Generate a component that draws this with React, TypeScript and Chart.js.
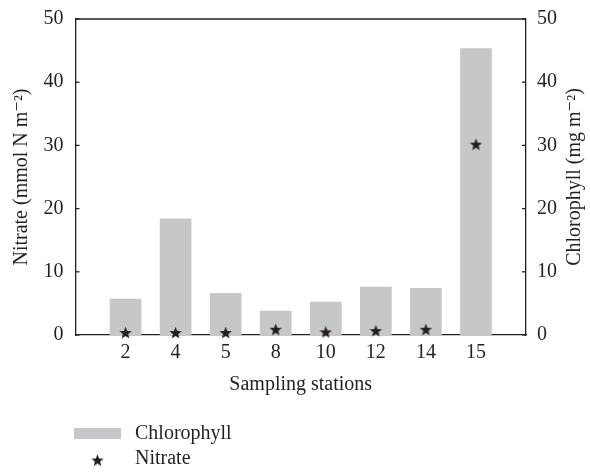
import React, { useEffect, useRef } from "react";
import { Chart, registerables } from "chart.js";

Chart.register(...registerables);

// ---- Data ----
const stations: string[] = ["2", "4", "5", "8", "10", "12", "14", "15"];
const chlorophyll: number[] = [5.7, 18.4, 6.6, 3.8, 5.2, 7.6, 7.4, 45.3];
const nitrate: number[] = [0.4, 0.4, 0.4, 0.9, 0.5, 0.7, 0.9, 30.2];
const yTicks: number[] = [0, 10, 20, 30, 40, 50];

const leftTitle = "Nitrate (mmol N m\u207B\u00B2)";
const rightTitle = "Chlorophyll (mg m\u207B\u00B2)";
const xTitle = "Sampling stations";

const INK = "#231f20";
const BAR = "#c6c7c9";
const FONT = "'Liberation Serif', 'DejaVu Serif', serif";

function makeStar(size: number, color: string): HTMLCanvasElement {
  const c = document.createElement("canvas");
  c.width = size;
  c.height = size;
  const ctx = c.getContext("2d")!;
  const cx = size / 2;
  const cy = size / 2 + size * 0.05;
  const R = size / 2;
  const r = R * 0.42;
  ctx.beginPath();
  for (let i = 0; i < 10; i++) {
    const a = -Math.PI / 2 + (i * Math.PI) / 5;
    const rad = i % 2 === 0 ? R : r;
    ctx.lineTo(cx + rad * Math.cos(a), cy + rad * Math.sin(a));
  }
  ctx.closePath();
  ctx.fillStyle = color;
  ctx.fill();
  return c;
}

export default function App() {
  const ref = useRef<HTMLCanvasElement | null>(null);

  useEffect(() => {
    document.body.style.margin = "0";
    const canvas = ref.current;
    if (!canvas) return;
    const star = makeStar(13, INK);

    const framePlugin = {
      id: "frameTicks",
      afterDraw(chart: any) {
        const ctx = chart.ctx;
        const { left, right, top, bottom } = chart.chartArea;
        ctx.save();
        ctx.strokeStyle = INK;
        ctx.lineWidth = 1.3;
        ctx.beginPath();
        ctx.moveTo(left, top);
        ctx.lineTo(right, top);
        ctx.stroke();
        const yS = chart.scales.y;
        const y1S = chart.scales.y1;
        yTicks.forEach((v) => {
          const py = yS.getPixelForValue(v);
          ctx.beginPath();
          ctx.moveTo(left, py);
          ctx.lineTo(left + 4, py);
          ctx.stroke();
          const py1 = y1S.getPixelForValue(v);
          ctx.beginPath();
          ctx.moveTo(right, py1);
          ctx.lineTo(right - 4, py1);
          ctx.stroke();
        });
        // right-axis title, reading bottom-to-top like the left one
        ctx.font = `20px ${FONT}`;
        ctx.fillStyle = INK;
        ctx.textAlign = "center";
        ctx.textBaseline = "middle";
        ctx.translate(y1S.right - 15, (top + bottom) / 2);
        ctx.rotate(-Math.PI / 2);
        ctx.fillText(rightTitle, 0, 0);
        ctx.restore();
      },
    };

    const legendPlugin = {
      id: "customLegend",
      afterDraw(chart: any) {
        const ctx = chart.ctx;
        const base = chart.scales.x.bottom;
        const left = chart.chartArea.left;
        const ds = chart.data.datasets;
        ctx.save();
        ctx.font = `20px ${FONT}`;
        ctx.textBaseline = "middle";
        ctx.textAlign = "left";
        ctx.fillStyle = BAR;
        ctx.fillRect(left - 1.5, base + 31, 47, 11);
        ctx.fillStyle = INK;
        ctx.fillText(ds[1].label, left + 59.5, base + 37);
        ctx.drawImage(star, left + 22 - star.width / 2, base + 63 - star.height / 2);
        ctx.fillText(ds[0].label, left + 59.5, base + 61.5);
        ctx.restore();
      },
    };

    const chart = new Chart(canvas, {
      type: "bar",
      data: {
        datasets: [
          {
            type: "line",
            label: "Nitrate",
            data: nitrate.map((v, i) => ({ x: i + 1, y: v })),
            yAxisID: "y",
            showLine: false,
            pointStyle: star as any,
            pointRadius: 6,
            borderColor: INK,
            backgroundColor: INK,
            clip: false as any,
            order: 0,
          } as any,
          {
            type: "bar",
            label: "Chlorophyll",
            data: chlorophyll.map((v, i) => ({ x: i + 1, y: v })),
            yAxisID: "y1",
            backgroundColor: BAR,
            borderWidth: 0,
            barThickness: 31,
            order: 1,
          } as any,
        ],
      },
      options: {
        animation: false,
        responsive: false,
        maintainAspectRatio: false,
        layout: { padding: { top: 19, bottom: 76, left: 0, right: 0 } },
        plugins: {
          legend: { display: false },
          tooltip: { enabled: false },
        },
        scales: {
          x: {
            type: "linear",
            min: 0,
            max: 9,
            offset: false,
            grid: { display: false, drawTicks: false, offset: false },
            border: { display: true, color: INK, width: 1.3 },
            afterFit: (s: any) => {
              s.height = 62;
              s.paddingLeft = 0;
              s.paddingRight = 0;
            },
            ticks: {
              stepSize: 1,
              autoSkip: false,
              maxRotation: 0,
              padding: 6,
              color: INK,
              font: { family: FONT, size: 20 },
              callback: (v: any) => {
                const n = Number(v);
                return n >= 1 && n <= stations.length ? stations[n - 1] : "";
              },
            },
            title: {
              display: true,
              text: xTitle,
              color: INK,
              font: { family: FONT, size: 20 },
              padding: { top: 8, bottom: 0 },
            },
          },
          y: {
            type: "linear",
            position: "left",
            min: 0,
            max: 50,
            grid: { display: false, drawTicks: false },
            border: { display: true, color: INK, width: 1.3 },
            afterFit: (s: any) => {
              s.width = 75.5;
              s.paddingTop = 0;
              s.paddingBottom = 0;
            },
            ticks: {
              stepSize: 10,
              padding: 12,
              color: INK,
              font: { family: FONT, size: 20 },
            },
            title: {
              display: true,
              text: leftTitle,
              color: INK,
              font: { family: FONT, size: 20 },
              padding: { top: 10, bottom: 9.5 },
            },
          },
          y1: {
            type: "linear",
            position: "right",
            min: 0,
            max: 50,
            grid: { display: false, drawTicks: false },
            border: { display: true, color: INK, width: 1.3 },
            afterFit: (s: any) => {
              s.width = 64;
              s.paddingTop = 0;
              s.paddingBottom = 0;
            },
            ticks: {
              stepSize: 10,
              padding: 11,
              color: INK,
              font: { family: FONT, size: 20 },
            },
            title: { display: false, text: rightTitle },
          },
        },
      } as any,
      plugins: [framePlugin, legendPlugin],
    });

    return () => chart.destroy();
  }, []);

  return (
    <div style={{ width: 590, height: 473 }}>
      <canvas ref={ref} width={590} height={473} style={{ display: "block", width: 590, height: 473 }} />
    </div>
  );
}
